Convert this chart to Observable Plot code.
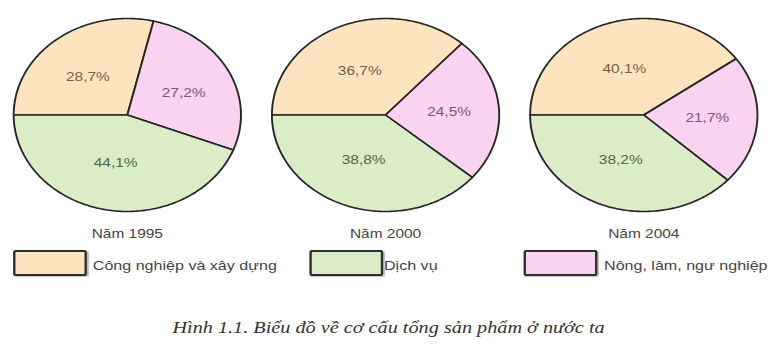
<!DOCTYPE html>
<html><head><meta charset="utf-8">
<script src="https://cdn.jsdelivr.net/npm/d3@7"></script>
<script src="https://cdn.jsdelivr.net/npm/@observablehq/plot@0.6"></script>
<style>
body{margin:0;background:#fff;}
#wrap{position:relative;width:653px;height:344px;transform:scaleX(1.19);transform-origin:0 0;font-family:"Liberation Sans",Arial,sans-serif;}
#chart{position:absolute;left:0;top:0;}
.sw{position:absolute;top:250px;width:58px;height:22px;border:2px solid #2e2e2e;border-radius:2px;box-shadow:1px 1px 1px rgba(0,0,0,.25);}
.lt{position:absolute;top:258px;font-size:13.5px;line-height:16px;color:#444;white-space:nowrap;}
#caption{position:absolute;left:0;top:318px;width:653px;text-align:center;font-family:"Liberation Serif","Times New Roman",serif;font-style:italic;font-size:17px;color:#333;white-space:nowrap;}
</style></head>
<body><div id="wrap"><div id="chart"></div><div id="legend"></div><div id="caption"></div></div>
<script>
// ---- data ----
const years = [1995, 2000, 2004];
const sectors = ["Công nghiệp và xây dựng", "Nông, lâm, ngư nghiệp", "Dịch vụ"]; // clockwise from west
const industry = [28.7, 36.7, 40.1];
const agriculture = [27.2, 24.5, 21.7];
const services = [44.1, 38.8, 38.2];
const legendOrder = ["Công nghiệp và xây dựng", "Dịch vụ", "Nông, lâm, ngư nghiệp"];
const yearPrefix = "Năm";
const captionText = "Hình 1.1. Biểu đồ về cơ cấu tổng sản phẩm ở nước ta";

// ---- styling ----
const fills = {"Công nghiệp và xây dựng": "#fde4bf", "Nông, lâm, ngư nghiệp": "#f9d3f0", "Dịch vụ": "#daedc6"};
const textFills = {"Công nghiệp và xây dựng": "#76623f", "Nông, lâm, ngư nghiệp": "#7a5878", "Dịch vụ": "#4b6b44"};

// ---- build slices ----
const series = [industry, agriculture, services];
const pie = d3.pie().sort(null).value(d => d.value).startAngle(-Math.PI / 2).endAngle(3 * Math.PI / 2);
const polys = [];
const labels = [];
years.forEach((year, i) => {
  const rows = sectors.map((s, k) => ({sector: s, value: series[k][i]}));
  pie(rows).forEach(a => {
    const key = year + "|" + a.data.sector;
    polys.push({key, year, sector: a.data.sector, x: 0, y: 0});
    const n = Math.max(2, Math.ceil((a.endAngle - a.startAngle) * 180 / Math.PI));
    for (let j = 0; j <= n; j++) {
      const t = a.startAngle + (a.endAngle - a.startAngle) * j / n;
      polys.push({key, year, sector: a.data.sector, x: Math.sin(t), y: Math.cos(t)});
    }
    polys.push({key, year, sector: a.data.sector, x: 0, y: 0});
    const m = (a.startAngle + a.endAngle) / 2;
    labels.push({year, sector: a.data.sector, value: a.data.value, x: 0.56 * Math.sin(m), y: 0.5 * Math.cos(m)});
  });
});

const fmt = v => v.toFixed(1).replace(".", ",") + "%";

const chart = Plot.plot({
  width: 653,
  height: 245,
  marginLeft: 11,
  marginRight: 16,
  marginTop: 18,
  marginBottom: 34,
  style: {background: "transparent", fontFamily: "Liberation Sans, Arial, sans-serif"},
  fx: {domain: years, paddingInner: 0.118, paddingOuter: 0, axis: null},
  x: {domain: [-1, 1], axis: null},
  y: {domain: [-1, 1], axis: null},
  color: {domain: sectors, range: sectors.map(s => fills[s])},
  marks: [
    Plot.line(polys, {x: "x", y: "y", z: "key", fx: "year", fill: "sector", stroke: "#262626", strokeWidth: 1.6, strokeLinejoin: "round", curve: "linear"}),
    ...sectors.map(s => Plot.text(labels.filter(d => d.sector === s), {
      x: "x", y: "y", fx: "year", text: d => fmt(d.value), fill: textFills[s], fontSize: 13, textAnchor: "middle"
    })),
    Plot.axisFx({anchor: "bottom", tickFormat: d => `${yearPrefix} ${d}`, tickSize: 0, tickPadding: 17, fontSize: 13, fill: "#444", label: null})
  ]
});
document.getElementById("chart").appendChild(chart);

// ---- legend ----
const swLeft = [11, 260, 439.5];
const txtLeft = [78, 322.7, 507.6];
const leg = document.getElementById("legend");
legendOrder.forEach((s, i) => {
  const sw = document.createElement("div");
  sw.className = "sw";
  sw.style.left = swLeft[i] + "px";
  sw.style.background = fills[s];
  leg.appendChild(sw);
  const t = document.createElement("div");
  t.className = "lt";
  t.style.left = txtLeft[i] + "px";
  t.textContent = s;
  leg.appendChild(t);
});
document.getElementById("caption").textContent = captionText;
</script>
</body></html>
